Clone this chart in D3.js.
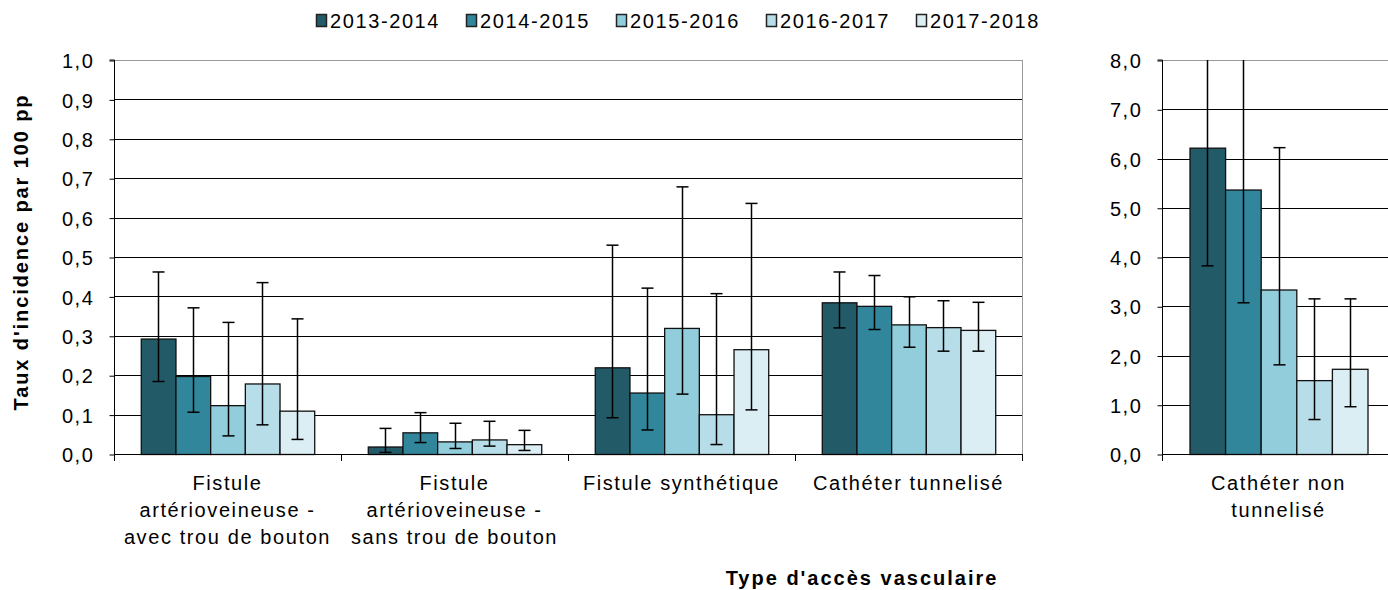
<!DOCTYPE html>
<html>
<head>
<meta charset="utf-8">
<script src="https://cdn.jsdelivr.net/npm/d3@7"></script>
<style>
  body { margin: 0; background: #fff; }
  text { font-family: "Liberation Sans", Arial, sans-serif; fill: #000; }
</style>
</head>
<body>
<div id="chart"></div>
<script>
let years = ["2013-2014", "2014-2015", "2015-2016", "2016-2017", "2017-2018"];
let colors = ["#235a68", "#31869b", "#92cddc", "#b7dee8", "#daeef3"];

let leftCats = [
  ["Fistule", "artérioveineuse -", "avec trou de bouton"],
  ["Fistule", "artérioveineuse -", "sans trou de bouton"],
  ["Fistule synthétique"],
  ["Cathéter tunnelisé"]
];
// rows = categories, cols = years
let leftValues = [
  [0.293, 0.198, 0.124, 0.179, 0.110],
  [0.019, 0.055, 0.032, 0.037, 0.025],
  [0.220, 0.156, 0.320, 0.101, 0.266],
  [0.385, 0.376, 0.329, 0.322, 0.315]
];
let leftLow = [
  [0.184, 0.106, 0.046, 0.074, 0.037],
  [0.004, 0.029, 0.014, 0.020, 0.009],
  [0.092, 0.061, 0.152, 0.024, 0.112],
  [0.320, 0.316, 0.271, 0.261, 0.261]
];
let leftHigh = [
  [0.462, 0.371, 0.334, 0.435, 0.343],
  [0.065, 0.105, 0.078, 0.083, 0.060],
  [0.530, 0.421, 0.678, 0.407, 0.636],
  [0.462, 0.453, 0.399, 0.389, 0.385]
];
let leftTicks = [0, 0.1, 0.2, 0.3, 0.4, 0.5, 0.6, 0.7, 0.8, 0.9, 1.0];

let rightCats = [["Cathéter non", "tunnelisé"]];
let rightValues = [[6.22, 5.37, 3.34, 1.50, 1.73]];
let rightLow = [[3.82, 3.07, 1.81, 0.70, 0.96]];
let rightHigh = [[9.10, 8.40, 6.22, 3.15, 3.15]];
let rightTicks = [0, 1, 2, 3, 4, 5, 6, 7, 8];

let fmt = d => d3.format(".1f")(d).replace(".", ",");

let svg = d3.select("#chart").append("svg")
  .attr("width", 1388)
  .attr("height", 590);

let plotTop = 60, plotBottom = 454;
let fontSize = "20px", spacing = "1.6px";

function panel(cats, values, low, high, ticks, yMax, x0, x1, borderRight, id) {
  let g = svg.append("g");

  let y = d3.scaleLinear().domain([0, yMax]).range([plotBottom, plotTop]);
  let x = d3.scaleBand().domain(d3.range(cats.length)).range([x0, x1]);
  let pad = x.bandwidth() * 0.118;
  let xi = d3.scaleBand().domain(d3.range(years.length))
    .range([pad, x.bandwidth() - pad]);

  // gridlines
  g.append("g")
    .selectAll("line")
    .data(ticks.filter(t => t > 0))
    .enter()
    .append("line")
    .attr("x1", x0).attr("x2", Math.min(x1, 1388))
    .attr("y1", d => Math.round(y(d)) + 0.5).attr("y2", d => Math.round(y(d)) + 0.5)
    .attr("stroke", d => d === yMax ? "#999" : "#000")
    .attr("stroke-width", 1);

  if (borderRight) {
    g.append("line")
      .attr("x1", x1 + 0.5).attr("x2", x1 + 0.5)
      .attr("y1", plotTop).attr("y2", plotBottom)
      .attr("stroke", "#999");
  }

  svg.append("clipPath").attr("id", id)
    .append("rect").attr("x", x0).attr("y", plotTop).attr("width", x1 - x0).attr("height", plotBottom - plotTop + 10);

  let grp = g.selectAll(".grp")
    .data(values)
    .enter()
    .append("g")
    .attr("transform", (d, i) => "translate(" + x(i) + ",0)");

  grp.selectAll("rect")
    .data(d => d)
    .enter()
    .append("rect")
    .attr("x", (d, j) => xi(j) + 0.5)
    .attr("y", d => y(d) + 0.5)
    .attr("width", xi.bandwidth())
    .attr("height", d => plotBottom - y(d))
    .attr("fill", (d, j) => colors[j])
    .attr("stroke", "#111")
    .attr("stroke-width", 1.3);

  // error bars
  let eg = g.append("g").attr("clip-path", "url(#" + id + ")");
  values.forEach((row, i) => {
    row.forEach((v, j) => {
      let cx = Math.round(x(i) + xi(j) + xi.bandwidth() / 2) + 0.5;
      let lo = y(low[i][j]), hi = y(high[i][j]);
      eg.append("line")
        .attr("x1", cx).attr("x2", cx)
        .attr("y1", hi).attr("y2", lo)
        .attr("stroke", "#000").attr("stroke-width", 1.5);
      [lo, hi].forEach(yy => {
        eg.append("line")
          .attr("x1", cx - 6).attr("x2", cx + 6)
          .attr("y1", yy).attr("y2", yy)
          .attr("stroke", "#000").attr("stroke-width", 1.5);
      });
    });
  });

  // y axis
  let ya = g.append("g")
    .attr("transform", "translate(" + (x0 + 0.5) + ",0.5)")
    .call(d3.axisLeft(y).tickValues(ticks).tickSize(5).tickFormat(fmt));
  ya.select(".domain").attr("stroke", "#000").attr("d", "M-5," + (plotTop - 0.5) + "H0V" + (plotBottom - 0.5));
  ya.selectAll(".tick line").attr("stroke", "#000");
  ya.selectAll(".tick text")
    .attr("x", -20)
    .attr("dy", "0.36em")
    .style("font-size", fontSize)
    .style("letter-spacing", spacing)
    .style("font-family", "'Liberation Sans', Arial, sans-serif")
    .attr("fill", "#000");

  // x baseline and category ticks
  g.append("line")
    .attr("x1", x0).attr("x2", Math.min(x1, 1388))
    .attr("y1", plotBottom + 0.5).attr("y2", plotBottom + 0.5)
    .attr("stroke", "#000");
  g.selectAll(".ctick")
    .data(d3.range(cats.length + 1))
    .enter()
    .append("line")
    .attr("x1", d => Math.round(x0 + d * x.bandwidth()) + 0.5)
    .attr("x2", d => Math.round(x0 + d * x.bandwidth()) + 0.5)
    .attr("y1", plotBottom).attr("y2", plotBottom + 7)
    .attr("stroke", "#000");

  // category labels
  let lbl = g.selectAll(".clabel")
    .data(cats)
    .enter()
    .append("text")
    .attr("text-anchor", "middle")
    .style("font-size", fontSize)
    .style("letter-spacing", spacing);
  lbl.selectAll("tspan")
    .data((d, i) => d.map(s => ({ s: s, i: i })))
    .enter()
    .append("tspan")
    .attr("x", d => x(d.i) + x.bandwidth() / 2)
    .attr("y", (d, k) => 490 + k * 27)
    .text(d => d.s);
}

panel(leftCats, leftValues, leftLow, leftHigh, leftTicks, 1.0, 114, 1022, true, "clipL");
panel(rightCats, rightValues, rightLow, rightHigh, rightTicks, 8.0, 1162, 1395, false, "clipR");

// axis titles
svg.append("text")
  .attr("transform", "translate(28,252) rotate(-90)")
  .attr("text-anchor", "middle")
  .style("font-size", fontSize)
  .style("letter-spacing", "1.9px")
  .style("font-weight", "bold")
  .text("Taux d'incidence par 100 pp");

svg.append("text")
  .attr("x", 862)
  .attr("y", 585)
  .attr("text-anchor", "middle")
  .style("font-size", fontSize)
  .style("letter-spacing", "2px")
  .style("font-weight", "bold")
  .text("Type d'accès vasculaire");

// legend
let leg = svg.append("g").selectAll("g")
  .data(years)
  .enter()
  .append("g")
  .attr("transform", (d, i) => "translate(" + (316 + i * 150) + ",14)");
leg.append("rect")
  .attr("x", 0.5).attr("y", 0.5)
  .attr("width", 10).attr("height", 12)
  .attr("fill", (d, i) => colors[i])
  .attr("stroke", "#222").attr("stroke-width", 1.5);
leg.append("text")
  .attr("x", 14)
  .attr("y", 14)
  .style("font-size", fontSize)
  .style("letter-spacing", spacing)
  .text(d => d);
</script>
</body>
</html>
